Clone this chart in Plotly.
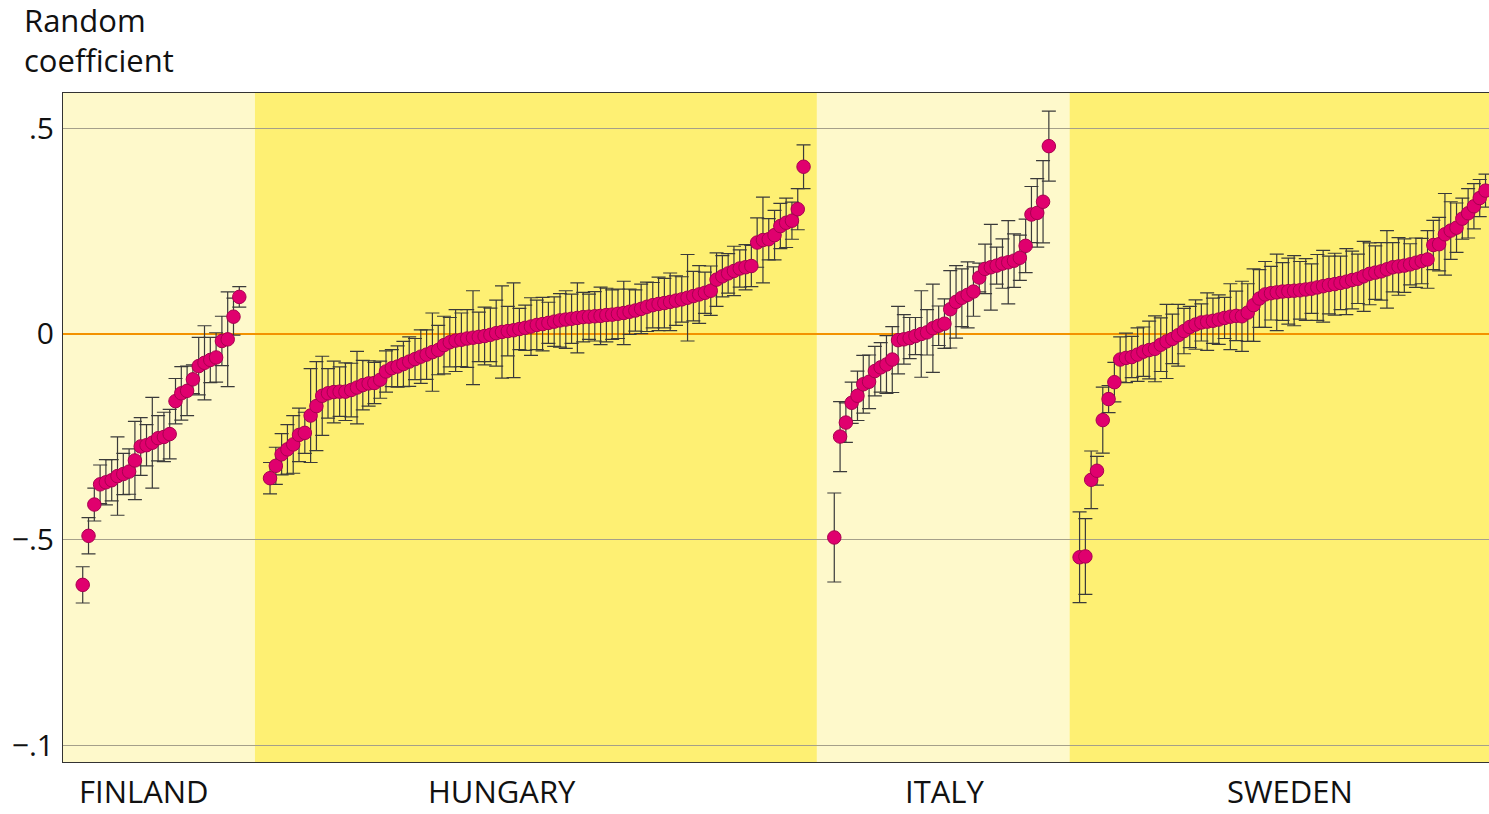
import plotly.graph_objects as go

# ---------------- data ----------------
countries = ["FINLAND", "HUNGARY", "ITALY", "SWEDEN"]

finland_coef = [-0.609, -0.49, -0.414, -0.365, -0.36, -0.355, -0.345, -0.34, -0.334, -0.307,
                -0.273, -0.27, -0.264, -0.253, -0.25, -0.243, -0.163, -0.144, -0.138, -0.11,
                -0.078, -0.07, -0.063, -0.057, -0.017, -0.013, 0.042, 0.09]
finland_err = [0.044, 0.044, 0.04, 0.047, 0.055, 0.05, 0.095, 0.05, 0.055, 0.095,
               0.07, 0.05, 0.11, 0.055, 0.06, 0.06, 0.055, 0.065, 0.06, 0.035,
               0.07, 0.09, 0.055, 0.06, 0.06, 0.115, 0.045, 0.025]

hungary_coef = [-0.350, -0.320, -0.292, -0.280, -0.268, -0.245, -0.240, -0.198, -0.175, -0.150,
                -0.144, -0.141, -0.140, -0.140, -0.136, -0.130, -0.124, -0.120, -0.119, -0.111,
                -0.091, -0.083, -0.079, -0.073, -0.067, -0.061, -0.055, -0.050, -0.044, -0.039,
                -0.027, -0.020, -0.016, -0.014, -0.011, -0.009, -0.007, -0.005, -0.002, 0.002,
                0.005, 0.007, 0.009, 0.012, 0.015, 0.018, 0.022, 0.024, 0.027, 0.030,
                0.033, 0.035, 0.037, 0.039, 0.041, 0.042, 0.043, 0.044, 0.046, 0.047,
                0.049, 0.051, 0.054, 0.057, 0.061, 0.066, 0.070, 0.073, 0.075, 0.078,
                0.081, 0.084, 0.088, 0.092, 0.096, 0.100, 0.105, 0.132, 0.140, 0.147,
                0.153, 0.159, 0.162, 0.165, 0.222, 0.228, 0.230, 0.240, 0.262, 0.270,
                0.275, 0.303, 0.406]
hungary_err = [0.038, 0.045, 0.05, 0.06, 0.07, 0.065, 0.05, 0.114, 0.108, 0.096,
               0.06, 0.075, 0.06, 0.07, 0.065, 0.088, 0.06, 0.055, 0.05, 0.045,
               0.05, 0.045, 0.05, 0.055, 0.06, 0.05, 0.065, 0.06, 0.095, 0.06,
               0.07, 0.06, 0.075, 0.065, 0.07, 0.114, 0.06, 0.07, 0.065, 0.08,
               0.112, 0.06, 0.115, 0.05, 0.055, 0.07, 0.06, 0.065, 0.05, 0.06,
               0.065, 0.07, 0.06, 0.085, 0.06, 0.055, 0.06, 0.07, 0.065, 0.06,
               0.06, 0.077, 0.055, 0.05, 0.06, 0.06, 0.055, 0.065, 0.06, 0.07,
               0.06, 0.055, 0.105, 0.06, 0.07, 0.05, 0.06, 0.065, 0.05, 0.048,
               0.06, 0.045, 0.055, 0.05, 0.06, 0.104, 0.05, 0.06, 0.055, 0.06,
               0.045, 0.05, 0.053]

italy_coef = [-0.494, -0.249, -0.215, -0.167, -0.150, -0.122, -0.116, -0.090, -0.081, -0.074,
              -0.062, -0.015, -0.013, -0.010, -0.005, 0.000, 0.004, 0.014, 0.020, 0.025,
              0.060, 0.078, 0.088, 0.095, 0.103, 0.137, 0.158, 0.162, 0.166, 0.171,
              0.174, 0.178, 0.185, 0.214, 0.290, 0.294, 0.321, 0.456]
italy_err = [0.108, 0.085, 0.048, 0.05, 0.06, 0.07, 0.065, 0.06, 0.06, 0.07,
             0.08, 0.082, 0.06, 0.05, 0.045, 0.105, 0.055, 0.107, 0.048, 0.06,
             0.094, 0.088, 0.07, 0.08, 0.06, 0.035, 0.06, 0.104, 0.045, 0.06,
             0.101, 0.065, 0.055, 0.065, 0.068, 0.083, 0.1, 0.085]

sweden_coef = [-0.542, -0.540, -0.354, -0.332, -0.209, -0.158, -0.117, -0.062, -0.058, -0.056,
               -0.050, -0.043, -0.039, -0.036, -0.026, -0.018, -0.012, -0.003, 0.007, 0.017,
               0.023, 0.028, 0.030, 0.032, 0.035, 0.039, 0.042, 0.044, 0.043, 0.052,
               0.070, 0.086, 0.096, 0.099, 0.101, 0.103, 0.104, 0.105, 0.106, 0.108,
               0.110, 0.113, 0.116, 0.119, 0.121, 0.124, 0.127, 0.131, 0.134, 0.140,
               0.146, 0.149, 0.152, 0.157, 0.162, 0.164, 0.166, 0.169, 0.173, 0.177,
               0.181, 0.216, 0.218, 0.242, 0.251, 0.258, 0.280, 0.293, 0.310, 0.330,
               0.348]
sweden_err = [0.11, 0.092, 0.07, 0.035, 0.08, 0.033, 0.048, 0.055, 0.06, 0.05,
              0.065, 0.06, 0.07, 0.08, 0.065, 0.09, 0.06, 0.075, 0.055, 0.05,
              0.06, 0.045, 0.07, 0.055, 0.06, 0.05, 0.08, 0.06, 0.085, 0.07,
              0.088, 0.07, 0.08, 0.065, 0.093, 0.07, 0.08, 0.085, 0.07, 0.075,
              0.06, 0.08, 0.087, 0.07, 0.075, 0.065, 0.08, 0.07, 0.06, 0.085,
              0.075, 0.065, 0.07, 0.094, 0.06, 0.07, 0.065, 0.05, 0.06, 0.055,
              0.07, 0.06, 0.065, 0.099, 0.07, 0.06, 0.05, 0.06, 0.055, 0.045,
              0.04]

y_tickvals = [0.5, 0, -0.5, -1]
y_ticktext = [".5", "0", "\u2212.5", "\u2212.1"]

# ---------------- layout helpers ----------------
coefs = [finland_coef, hungary_coef, italy_coef, sweden_coef]
errs = [finland_err, hungary_err, italy_err, sweden_err]
bg_colors = ["#FEF9CB", "#FEF073", "#FEF9CB", "#FEF073"]
GAP = 5.3
X_LEFT, X_RIGHT = -3.4, 242.5
region_bounds = [X_LEFT, 29.7, 126.6, 170.2, X_RIGHT + 5]
label_x = [10.6, 72.3, 148.7, 208.2]

fig = go.Figure()
start = 0.0
for name, c, e in zip(countries, coefs, errs):
    xs = [start + i for i in range(len(c))]
    fig.add_trace(go.Scatter(
        x=xs, y=c, mode="markers", name=name, showlegend=False,
        marker=dict(size=13.5, color="#E0006E", line=dict(color="#A8004F", width=1)),
        error_y=dict(type="data", array=e, visible=True, color="#3A3A3A",
                     thickness=1.2, width=7),
        cliponaxis=True,
    ))
    start = xs[-1] + GAP

shapes = []
for i, col in enumerate(bg_colors):
    shapes.append(dict(type="rect", xref="x", yref="paper",
                       x0=region_bounds[i], x1=region_bounds[i + 1],
                       y0=0, y1=1, fillcolor=col, line=dict(width=0), layer="below"))

annotations = [dict(text="Random<br>coefficient", xref="paper", yref="paper",
                    x=-0.0285, y=1.1435, xanchor="left", yanchor="top", align="left",
                    showarrow=False, font=dict(family="Open Sans", size=31, color="#111"))]
for name, lx in zip(countries, label_x):
    annotations.append(dict(text=name, xref="x", yref="paper", x=lx, y=-0.0772,
                            xanchor="center", yanchor="bottom", showarrow=False,
                            font=dict(family="Open Sans", size=31, color="#111")))

fig.update_layout(
    width=1489, height=814, autosize=False,
    margin=dict(l=63, r=0, t=93, b=52, pad=0),
    paper_bgcolor="white", plot_bgcolor="#FEF9CB",
    shapes=shapes, annotations=annotations,
    font=dict(family="Open Sans", size=30, color="#111"),
)
fig.update_xaxes(range=[X_LEFT, X_RIGHT], showgrid=False, zeroline=False,
                 showticklabels=False, ticks="", showline=True, mirror=True,
                 linecolor="#333", linewidth=1)
fig.update_yaxes(range=[-1.039, 0.585], tickvals=y_tickvals, ticktext=y_ticktext,
                 showgrid=True, gridcolor="#A5A08A", gridwidth=1,
                 zeroline=True, zerolinecolor="#F39200", zerolinewidth=1.6,
                 ticks="", ticklabelstandoff=2, showline=True, mirror=True,
                 linecolor="#333", linewidth=1,
                 tickfont=dict(family="Open Sans", size=30, color="#111"))

fig.write_html("out.html", config={"displayModeBar": False},
               post_script="document.body.style.margin='0';")
